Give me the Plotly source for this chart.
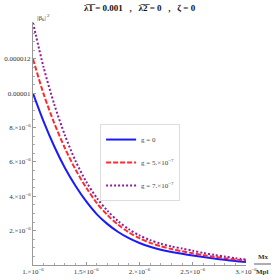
import plotly.graph_objects as go

x_vals = [1.0, 1.1, 1.2, 1.3, 1.4, 1.5, 1.6, 1.7, 1.8, 1.9, 2.0, 2.1, 2.2, 2.3, 2.4, 2.5, 2.6, 2.7, 2.8, 2.9, 3.0]
blue_g0 = [10.0, 8.35, 6.9, 5.65, 4.6, 3.7, 2.95, 2.38, 1.92, 1.56, 1.28, 1.06, 0.89, 0.76, 0.65, 0.55, 0.46, 0.38, 0.30, 0.23, 0.17]
red_g5 = [12.0, 9.95, 8.25, 6.8, 5.55, 4.5, 3.6, 2.9, 2.34, 1.9, 1.56, 1.29, 1.09, 0.93, 0.80, 0.68, 0.57, 0.48, 0.40, 0.32, 0.26]
purple_g7 = [14.1, 11.5, 9.35, 7.55, 6.05, 4.85, 3.9, 3.15, 2.55, 2.08, 1.72, 1.45, 1.24, 1.08, 0.96, 0.83, 0.70, 0.59, 0.49, 0.40, 0.31]
series_names = ["g = 0", "g = 5.×10<sup>−7</sup>", "g = 7.×10<sup>−7</sup>"]

x_ticks = [1.0, 1.5, 2.0, 2.5, 3.0]
x_tick_labels = ["1.×10<sup>−6</sup>", "1.5×10<sup>−6</sup>", "2.×10<sup>−6</sup>", "2.5×10<sup>−6</sup>", "3.×10<sup>−6</sup>"]
y_ticks = [2, 4, 6, 8, 10, 12]
y_tick_labels = ["2.×10<sup>−6</sup>", "4.×10<sup>−6</sup>", "6.×10<sup>−6</sup>", "8.×10<sup>−6</sup>", "0.00001", "0.000012"]

scale = 1e-6
xs = [v * scale for v in x_vals]

fig = go.Figure()
styles = [
    ("#1a1aff", "solid"),
    ("#ff2a2a", "5px,2px"),
    ("#8e1e9e", "2px,2px"),
]
for i, (ys, (col, dash)) in enumerate(zip([blue_g0, red_g5, purple_g7], styles)):
    fig.add_trace(go.Scatter(
        x=xs, y=[v * scale for v in ys], mode="lines",
        line=dict(color=col, width=2, dash=dash, shape="spline", smoothing=0.8),
        name=series_names[i], legendgroup=str(i),
    ))

font_family = "Liberation Serif"
fig.update_layout(
    width=280, height=280,
    margin=dict(l=33, r=34, t=22, b=15, autoexpand=False),
    paper_bgcolor="white", plot_bgcolor="white",
    font=dict(family=font_family, size=7, color="#222"),
    showlegend=True,
    legend=dict(x=0.315, y=0.58, xanchor="left", yanchor="top",
                bordercolor="#dddddd", borderwidth=1, bgcolor="white",
                font=dict(size=7, color="#444"), tracegroupgap=4,
                itemwidth=30),
    xaxis=dict(range=[1e-6, 3e-6], tickvals=[v * scale for v in x_ticks], ticktext=x_tick_labels,
               ticks="inside", ticklen=3, tickcolor="#999", showline=True, linecolor="#999",
               linewidth=1, showgrid=False, zeroline=False, tickfont=dict(size=7, color="#333"),
               minor=dict(ticks="inside", ticklen=2, tickcolor="#aaa", dtick=0.1e-6),
               fixedrange=True, automargin=False),
    yaxis=dict(range=[0, 14.15e-6], tickvals=[v * scale for v in y_ticks], ticktext=y_tick_labels,
               ticks="inside", ticklen=3, tickcolor="#999", showline=True, linecolor="#999",
               linewidth=1, showgrid=False, zeroline=False, tickfont=dict(size=7, color="#333"),
               minor=dict(ticks="inside", ticklen=2, tickcolor="#aaa", dtick=0.5e-6),
               fixedrange=True, automargin=False),
    annotations=[
        dict(text="<b>λ̅1̅ = 0.001   ,   λ̅2̅ = 0   ,   ζ = 0</b>", x=0.5, y=1.0, xref="paper", yref="paper",
             xanchor="center", yanchor="bottom", yshift=7, showarrow=False,
             font=dict(size=9, family=font_family, color="#111")),
        dict(text="|β<sub>k</sub>|<sup> 2</sup>", x=0, y=1.0, xref="paper", yref="paper",
             xanchor="left", yanchor="bottom", xshift=2, yshift=-2, showarrow=False,
             font=dict(size=7, family=font_family, color="#333")),
        dict(text="<b>Mx</b>", x=1.0, y=0, xref="paper", yref="paper", xanchor="left", yanchor="bottom",
             xshift=10, yshift=2, showarrow=False, font=dict(size=7, family=font_family, color="#333")),
        dict(text="<b>Mpl</b>", x=1.0, y=0, xref="paper", yref="paper", xanchor="left", yanchor="top",
             xshift=8, yshift=-1, showarrow=False, font=dict(size=7, family=font_family, color="#333")),
    ],
)
# fraction bar between "Mx" and "Mpl"
fig.add_shape(type="line", xref="paper", yref="paper", xsizemode="pixel", ysizemode="pixel",
              xanchor=1.0, yanchor=0.0, x0=8, x1=25, y0=1, y1=1,
              line=dict(color="#333", width=0.8))

fig.write_html("out.html", config={"displayModeBar": False},
               post_script="document.body.style.margin='0';document.body.style.overflow='hidden';")
